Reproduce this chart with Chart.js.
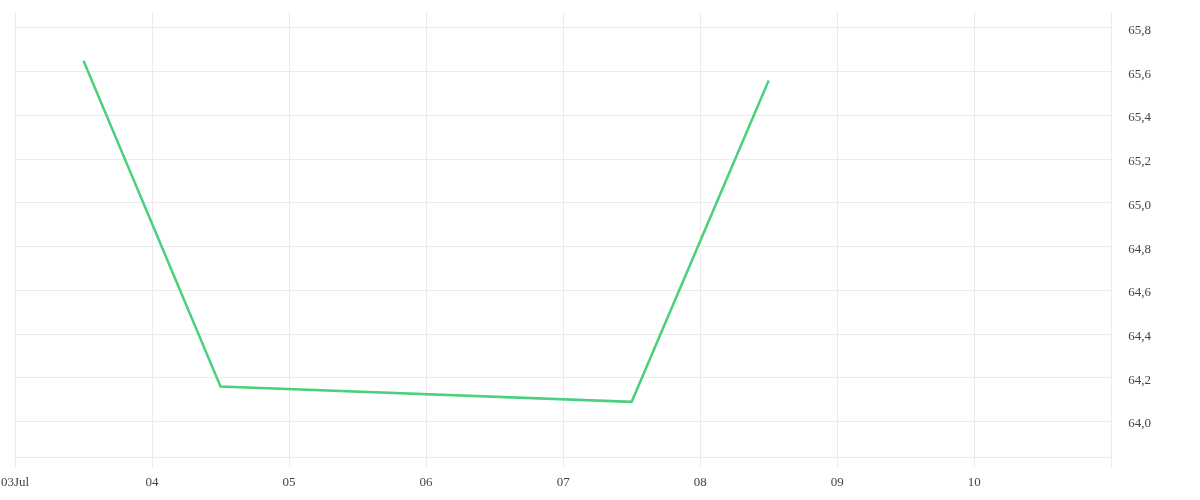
<!DOCTYPE html>
<html lang="en">
<head>
    <meta charset="UTF-8">
    <title>Price</title>
    <style>
body, html {
    margin: 0;
    padding: 0;
    background-color: #ffffff;
}
#wrap {
    width: 1200px;
    height: 500px;
}
    </style>
    <script src="https://cdn.jsdelivr.net/npm/chart.js"></script>
</head>
<body>
    <div id="wrap"><canvas id="priceChart"></canvas></div>

    <script>
        // day of July (noon = .5)
        const days = [3.5, 4.5, 7.5, 8.5];
        const prices = [65.65, 64.16, 64.09, 65.56];
        const dayTicks = [3, 4, 5, 6, 7, 8, 9, 10, 11];
        const dayLabels = ['03Jul', '04', '05', '06', '07', '08', '09', '10', ''];
        const priceTicks = [64.0, 64.2, 64.4, 64.6, 64.8, 65.0, 65.2, 65.4, 65.6, 65.8];

        const gridColor = '#ebebeb';
        const textFont = { family: "'Liberation Serif', serif", size: 13 };

        const ctx = document.getElementById('priceChart').getContext('2d');
        new Chart(ctx, {
            type: 'line',
            data: {
                datasets: [{
                    data: days.map((d, i) => ({ x: d, y: prices[i] })),
                    borderColor: '#4cd07d',
                    borderWidth: 2.5,
                    pointRadius: 0,
                    fill: false,
                    tension: 0
                }]
            },
            options: {
                responsive: true,
                maintainAspectRatio: false,
                animation: false,
                layout: { padding: { top: 0, right: 32, bottom: 3, left: 0 } },
                plugins: {
                    legend: { display: false },
                    tooltip: { enabled: false }
                },
                scales: {
                    x: {
                        type: 'linear',
                        min: 3,
                        max: 11,
                        afterBuildTicks: axis => {
                            axis.ticks = dayTicks.map(v => ({ value: v }));
                        },
                        afterFit: axis => { axis.paddingLeft = 15; },
                        ticks: {
                            autoSkip: false,
                            maxRotation: 0,
                            padding: 7,
                            color: '#444',
                            font: textFont,
                            callback: (v) => dayLabels[dayTicks.indexOf(v)]
                        },
                        grid: { color: gridColor, tickLength: 10 },
                        border: { display: true, color: gridColor }
                    },
                    y: {
                        position: 'right',
                        min: 63.836,
                        max: 65.873,
                        afterBuildTicks: axis => {
                            axis.ticks = priceTicks.map(v => ({ value: v }));
                        },
                        afterFit: axis => { axis.paddingTop = 12; },
                        ticks: {
                            padding: 17,
                            labelOffset: 2.5,
                            color: '#444',
                            font: textFont,
                            callback: (v) => v.toFixed(1).replace('.', ',')
                        },
                        grid: { color: gridColor, drawTicks: false },
                        border: { display: false }
                    }
                }
            }
        });
    </script>
</body>
</html>
